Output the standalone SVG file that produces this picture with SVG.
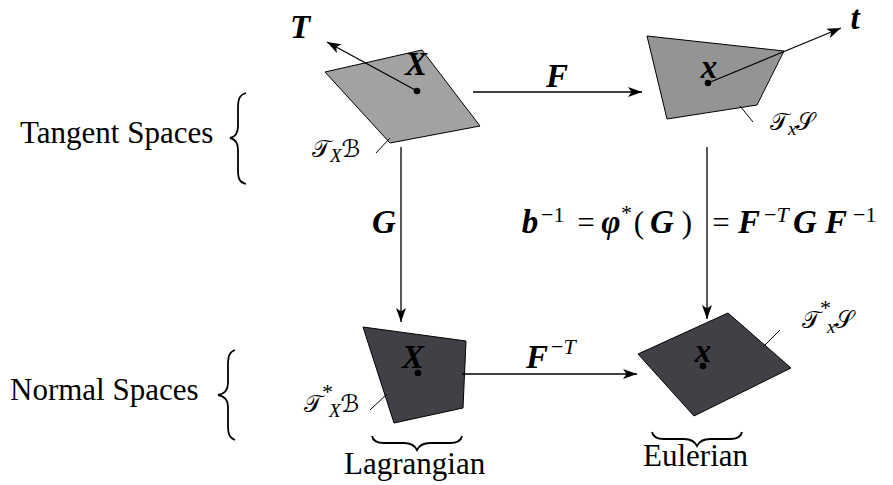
<svg xmlns="http://www.w3.org/2000/svg" width="893" height="485" viewBox="0 0 893 485">
<style>
.txt{font-family:"Liberation Serif","Times New Roman",Tinos,"DejaVu Serif",serif;font-size:31px;fill:#000}
.m{font-family:"Liberation Serif","Times New Roman",Tinos,"DejaVu Serif",serif;font-size:33px;font-weight:bold;font-style:italic;fill:#000;text-anchor:middle}
.r{font-family:"Liberation Serif","Times New Roman",Tinos,"DejaVu Serif",serif;font-size:31px;fill:#000;text-anchor:middle}
.sup{font-family:"Liberation Serif","Times New Roman",Tinos,"DejaVu Serif",serif;font-size:22px;fill:#000}
.supi{font-style:italic}
.cal{font-family:"DejaVu Serif","DejaVu Sans",serif;font-size:24px;fill:#000}
.sub{font-family:"Liberation Serif","Times New Roman",Tinos,"DejaVu Serif",serif;font-size:19px;font-style:italic;fill:#000}
.conn{stroke:#000;stroke-width:1.3;fill:none}
.brace{stroke:#000;stroke-width:1.8;fill:none}
.lead{stroke:#000;stroke-width:1;fill:none}
.plane{stroke:#000;stroke-width:1}
</style>
<defs>
<marker id="ah" markerUnits="userSpaceOnUse" markerWidth="16" markerHeight="12" refX="14" refY="5" orient="auto">
<path d="M0,0 L14,5 L0,10 L3.5,5 Z" fill="#000"/>
</marker>
</defs>
<rect width="893" height="485" fill="#fff"/>

<g id="side-labels">
<text class="txt" x="20" y="143">Tangent Spaces</text>
<path class="brace" d="M246,93 C239,95 238,100 238,108 L238,126 C238,134 235,137 230,138 C235,139 238,142 238,150 L238,170 C238,178 239,182 246,184"/>
<text class="txt" x="10" y="400">Normal Spaces</text>
<path class="brace" d="M235,350 C229,352 228,357 228,365 L228,383 C228,391 224,394 218,395 C224,396 228,399 228,407 L228,425 C228,433 229,438 235,440"/>
</g>

<g id="tangent-lagrangian">
<polygon class="plane" points="325,72 422,50 480,126 390,143" fill="#a2a2a2"/>
<text class="m" x="416" y="75">X</text>
<circle cx="417" cy="91" r="3.3" fill="#000"/>
<line class="conn" x1="417" y1="91" x2="327" y2="42" marker-end="url(#ah)"/>
<text class="m" x="300" y="38">T</text>
<line class="lead" x1="390" y1="138" x2="376" y2="153"/>
<text class="cal" x="312" y="157">𝒯<tspan class="sub" dy="5">X</tspan><tspan dy="-5">ℬ</tspan></text>
</g>

<g id="tangent-eulerian">
<polygon class="plane" points="647,36 784,51 757,105 667,119" fill="#949494"/>
<text class="m" x="709" y="78">x</text>
<circle cx="708" cy="83" r="3.3" fill="#000"/>
<line class="conn" x1="708" y1="83" x2="841" y2="28" marker-end="url(#ah)"/>
<text class="m" x="855" y="29">t</text>
<line class="lead" x1="740" y1="106" x2="753" y2="122"/>
<text class="cal" x="770" y="130">𝒯<tspan class="sub" dy="5">x</tspan><tspan dy="-5">𝒮</tspan></text>
</g>

<g id="normal-lagrangian">
<polygon class="plane" points="363,327 466,341 463,408 394,423" fill="#404046"/>
<text class="m" x="413" y="368">X</text>
<circle cx="418" cy="373" r="3.3" fill="#000"/>
<line class="lead" x1="387" y1="394" x2="370" y2="410"/>
<text class="cal" x="304" y="412">𝒯<tspan class="sup" font-size="16" dy="-13">*</tspan><tspan class="sub" font-size="17" dx="-4" dy="18">X</tspan><tspan dy="-5">ℬ</tspan></text>
<path class="brace" d="M372,436 C373,441 377,443 384,443 L404,443 C411,443 415,446 417,450 C419,446 423,443 430,443 L450,443 C457,443 461,441 462,436"/>
<text class="txt" x="344" y="474">Lagrangian</text>
</g>

<g id="normal-eulerian">
<polygon class="plane" points="638,354 728,313 791,368 694,416" fill="#404046"/>
<text class="m" x="703" y="362">x</text>
<circle cx="703" cy="366" r="3.3" fill="#000"/>
<line class="lead" x1="763" y1="347" x2="780" y2="330"/>
<text class="cal" x="802" y="328">𝒯<tspan class="sup" font-size="16" dy="-13">*</tspan><tspan class="sub" font-size="17" dx="-4" dy="18">x</tspan><tspan dy="-5">𝒮</tspan></text>
<path class="brace" d="M652,432 C653,437 657,439 664,439 L684,439 C691,439 695,442 697,446 C699,442 703,439 710,439 L730,439 C737,439 741,437 742,432"/>
<text class="txt" x="643" y="466">Eulerian</text>
</g>

<g id="connectors">
<line class="conn" x1="473" y1="92" x2="642" y2="92" marker-end="url(#ah)"/>
<line class="conn" x1="401" y1="147" x2="401" y2="322" marker-end="url(#ah)"/>
<line class="conn" x1="707" y1="147" x2="707" y2="319" marker-end="url(#ah)"/>
<line class="conn" x1="462" y1="374" x2="637" y2="374" marker-end="url(#ah)"/>
</g>

<g id="connector-labels">
<text class="m" x="557" y="87">F</text>
<text class="m" x="384" y="233">G</text>
<text class="m" x="537" y="368">F</text>
<text class="sup" x="551" y="354">−<tspan class="supi">T</tspan></text>
<text class="m" x="530" y="233">b</text>
<text class="sup" x="541" y="222">−1</text>
<text class="r" x="586" y="233">=</text>
<text class="m" x="611" y="233">φ</text>
<text class="sup" x="621" y="220">*</text>
<text class="r" x="639" y="233">(</text>
<text class="m" x="662" y="233">G</text>
<text class="r" x="687" y="233">)</text>
<text class="r" x="721" y="233">=</text>
<text class="m" x="749" y="233">F</text>
<text class="sup" x="764" y="222">−<tspan class="supi">T</tspan></text>
<text class="m" x="805" y="233">G</text>
<text class="m" x="836" y="233">F</text>
<text class="sup" x="853" y="222">−1</text>
</g>
</svg>
